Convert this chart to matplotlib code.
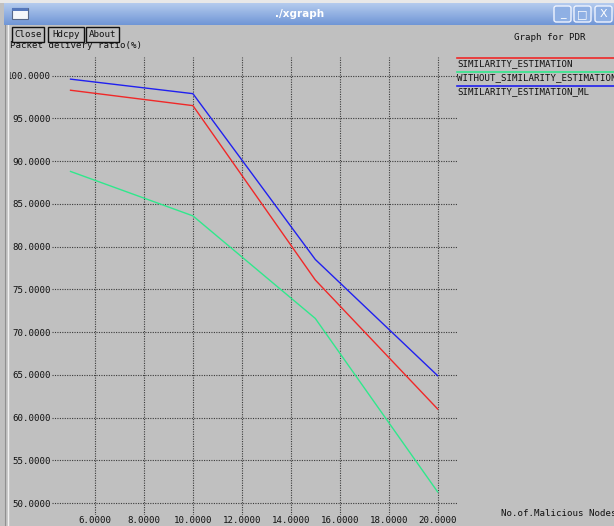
import matplotlib
matplotlib.use("Agg")
import matplotlib.pyplot as plt
import numpy as np
from matplotlib.patches import Rectangle, FancyBboxPatch
from matplotlib.lines import Line2D
from matplotlib.colors import LinearSegmentedColormap

# ---- data ----
x_nodes = [5, 10, 15, 20]
similarity_estimation = [98.3, 96.5, 76.1, 61.0]
without_similarity_estimation = [88.8, 83.6, 71.6, 51.3]
similarity_estimation_ml = [99.6, 97.9, 78.5, 64.9]
series_names = ["SIMILARITY_ESTIMATION", "WITHOUT_SIMILARITY_ESTIMATION", "SIMILARITY_ESTIMATION_ML"]
x_ticks = [6, 8, 10, 12, 14, 16, 18, 20]
y_ticks = [50, 55, 60, 65, 70, 75, 80, 85, 90, 95, 100]
x_tick_labels = ["%.4f" % v for v in x_ticks]
y_tick_labels = ["%.4f" % v for v in y_ticks]

W, H = 614, 526
BG = "#c0c0c0"
MONO = "DejaVu Sans Mono"
FS = 6.6

def fx(px):
    return px / W

def fy(py):
    return 1 - py / H

fig = plt.figure(figsize=(W / 100, H / 100), dpi=100, facecolor=BG)

# ---- plot axes ----
ax = fig.add_axes([fx(52), fy(515), fx(457) - fx(52), fy(57) - fy(515)])
ax.set_facecolor(BG)
ax.set_xlim(4.243, 20.79)
ax.set_ylim(48.6, 102.19)
for s in ax.spines.values():
    s.set_visible(False)
ax.set_xticks(x_ticks)
ax.set_xticklabels(x_tick_labels, fontfamily=MONO, fontsize=FS, color="#111111")
ax.set_yticks(y_ticks)
ax.set_yticklabels(y_tick_labels, fontfamily=MONO, fontsize=FS, color="#111111")
ax.tick_params(length=0, pad=0.5)
ax.tick_params(axis="x", pad=1.0)
ax.grid(True, color="#3a3a3a", linestyle=(0, (1, 1.2)), linewidth=0.8)
ax.set_axisbelow(True)

colors = ["#f02828", "#30e88c", "#2020f0"]
for vals, c in zip([similarity_estimation, without_similarity_estimation, similarity_estimation_ml], colors):
    ax.plot(x_nodes, vals, color=c, linewidth=1.0, zorder=3)

# ---- legend (xgraph style) ----
leg_line_y = [58, 72.3, 86]
leg_text_y = [63.7, 78, 92]
for name, c, ly, ty in zip(series_names, colors, leg_line_y, leg_text_y):
    fig.add_artist(Line2D([fx(457), fx(614)], [fy(ly), fy(ly)], color=c, linewidth=1.2))
    fig.text(fx(457), fy(ty), name, fontfamily=MONO, fontsize=FS, color="#111111",
             ha="left", va="center")

fig.text(fx(501), fy(513), "No.of.Malicious Nodes", fontfamily=MONO, fontsize=FS,
         color="#111111", ha="left", va="center")
fig.text(fx(550), fy(38), "Graph for PDR", fontfamily=MONO, fontsize=FS,
         color="#111111", ha="center", va="center")
fig.text(fx(10), fy(45), "Packet delivery ratio(%)", fontfamily=MONO, fontsize=FS,
         color="#111111", ha="left", va="center", zorder=1)

# ---- buttons ----
for label, x0, x1 in [("Close", 12, 44), ("Hdcpy", 48, 84), ("About", 86, 119)]:
    fig.add_artist(Rectangle((fx(x0), fy(42)), fx(x1) - fx(x0), fy(27) - fy(42),
                             facecolor=BG, edgecolor="#111111", linewidth=1.0, zorder=5))
    fig.text(fx((x0 + x1) / 2), fy(34.5), label, fontfamily=MONO, fontsize=FS,
             color="#111111", ha="center", va="center", zorder=6)

# ---- window frame / title bar ----
fig.add_artist(Rectangle((0, 0), fx(9.5), 1, facecolor=BG, edgecolor="none", zorder=8))
fig.add_artist(Line2D([fx(8), fx(8)], [0, fy(25)], color="#f0f0f0", linewidth=1.0, zorder=9))
fig.add_artist(Line2D([fx(5), fx(5)], [0, fy(25)], color="#909090", linewidth=0.8, zorder=9))
tb = fig.add_axes([fx(4), fy(25), 1 - fx(4), fy(3) - fy(25)], zorder=10)
grad = np.linspace(0, 1, 50).reshape(-1, 1)
cm = LinearSegmentedColormap.from_list("tb", ["#b4cbee", "#7096d6"])
tb.imshow(grad, aspect="auto", cmap=cm, extent=[0, 1, 0, 1], origin="upper")
tb.set_axis_off()
fig.add_artist(Rectangle((fx(0), fy(3)), 1, fy(0) - fy(3), facecolor="#e8e8e8", edgecolor="none", zorder=11))
fig.text(fx(300), fy(14), "./xgraph", fontfamily="DejaVu Sans", fontsize=7.5,
         color="white", ha="center", va="center", zorder=12, fontweight="bold")
# window icon
fig.add_artist(Rectangle((fx(12), fy(19)), fx(16), fy(8) - fy(19), facecolor="#f4f6fa",
                         edgecolor="#556688", linewidth=0.8, zorder=12))
fig.add_artist(Rectangle((fx(12), fy(11)), fx(16), fy(8) - fy(11), facecolor="#5577bb",
                         edgecolor="none", zorder=13))
# window controls
for x0, sym in [(554, "_"), (574, "□"), (595, "X")]:
    fig.add_artist(FancyBboxPatch((fx(x0), fy(22)), fx(17), fy(6) - fy(22),
                                  boxstyle="round,pad=0,rounding_size=0.004",
                                  facecolor="#8fb0e4", edgecolor="#f0f4ff", linewidth=1.0, zorder=12))
    fig.text(fx(x0 + 8.5), fy(14), sym, fontfamily="DejaVu Sans", fontsize=8,
             color="white", ha="center", va="center", zorder=13)

fig.savefig("out.png", dpi=100, facecolor=BG)
